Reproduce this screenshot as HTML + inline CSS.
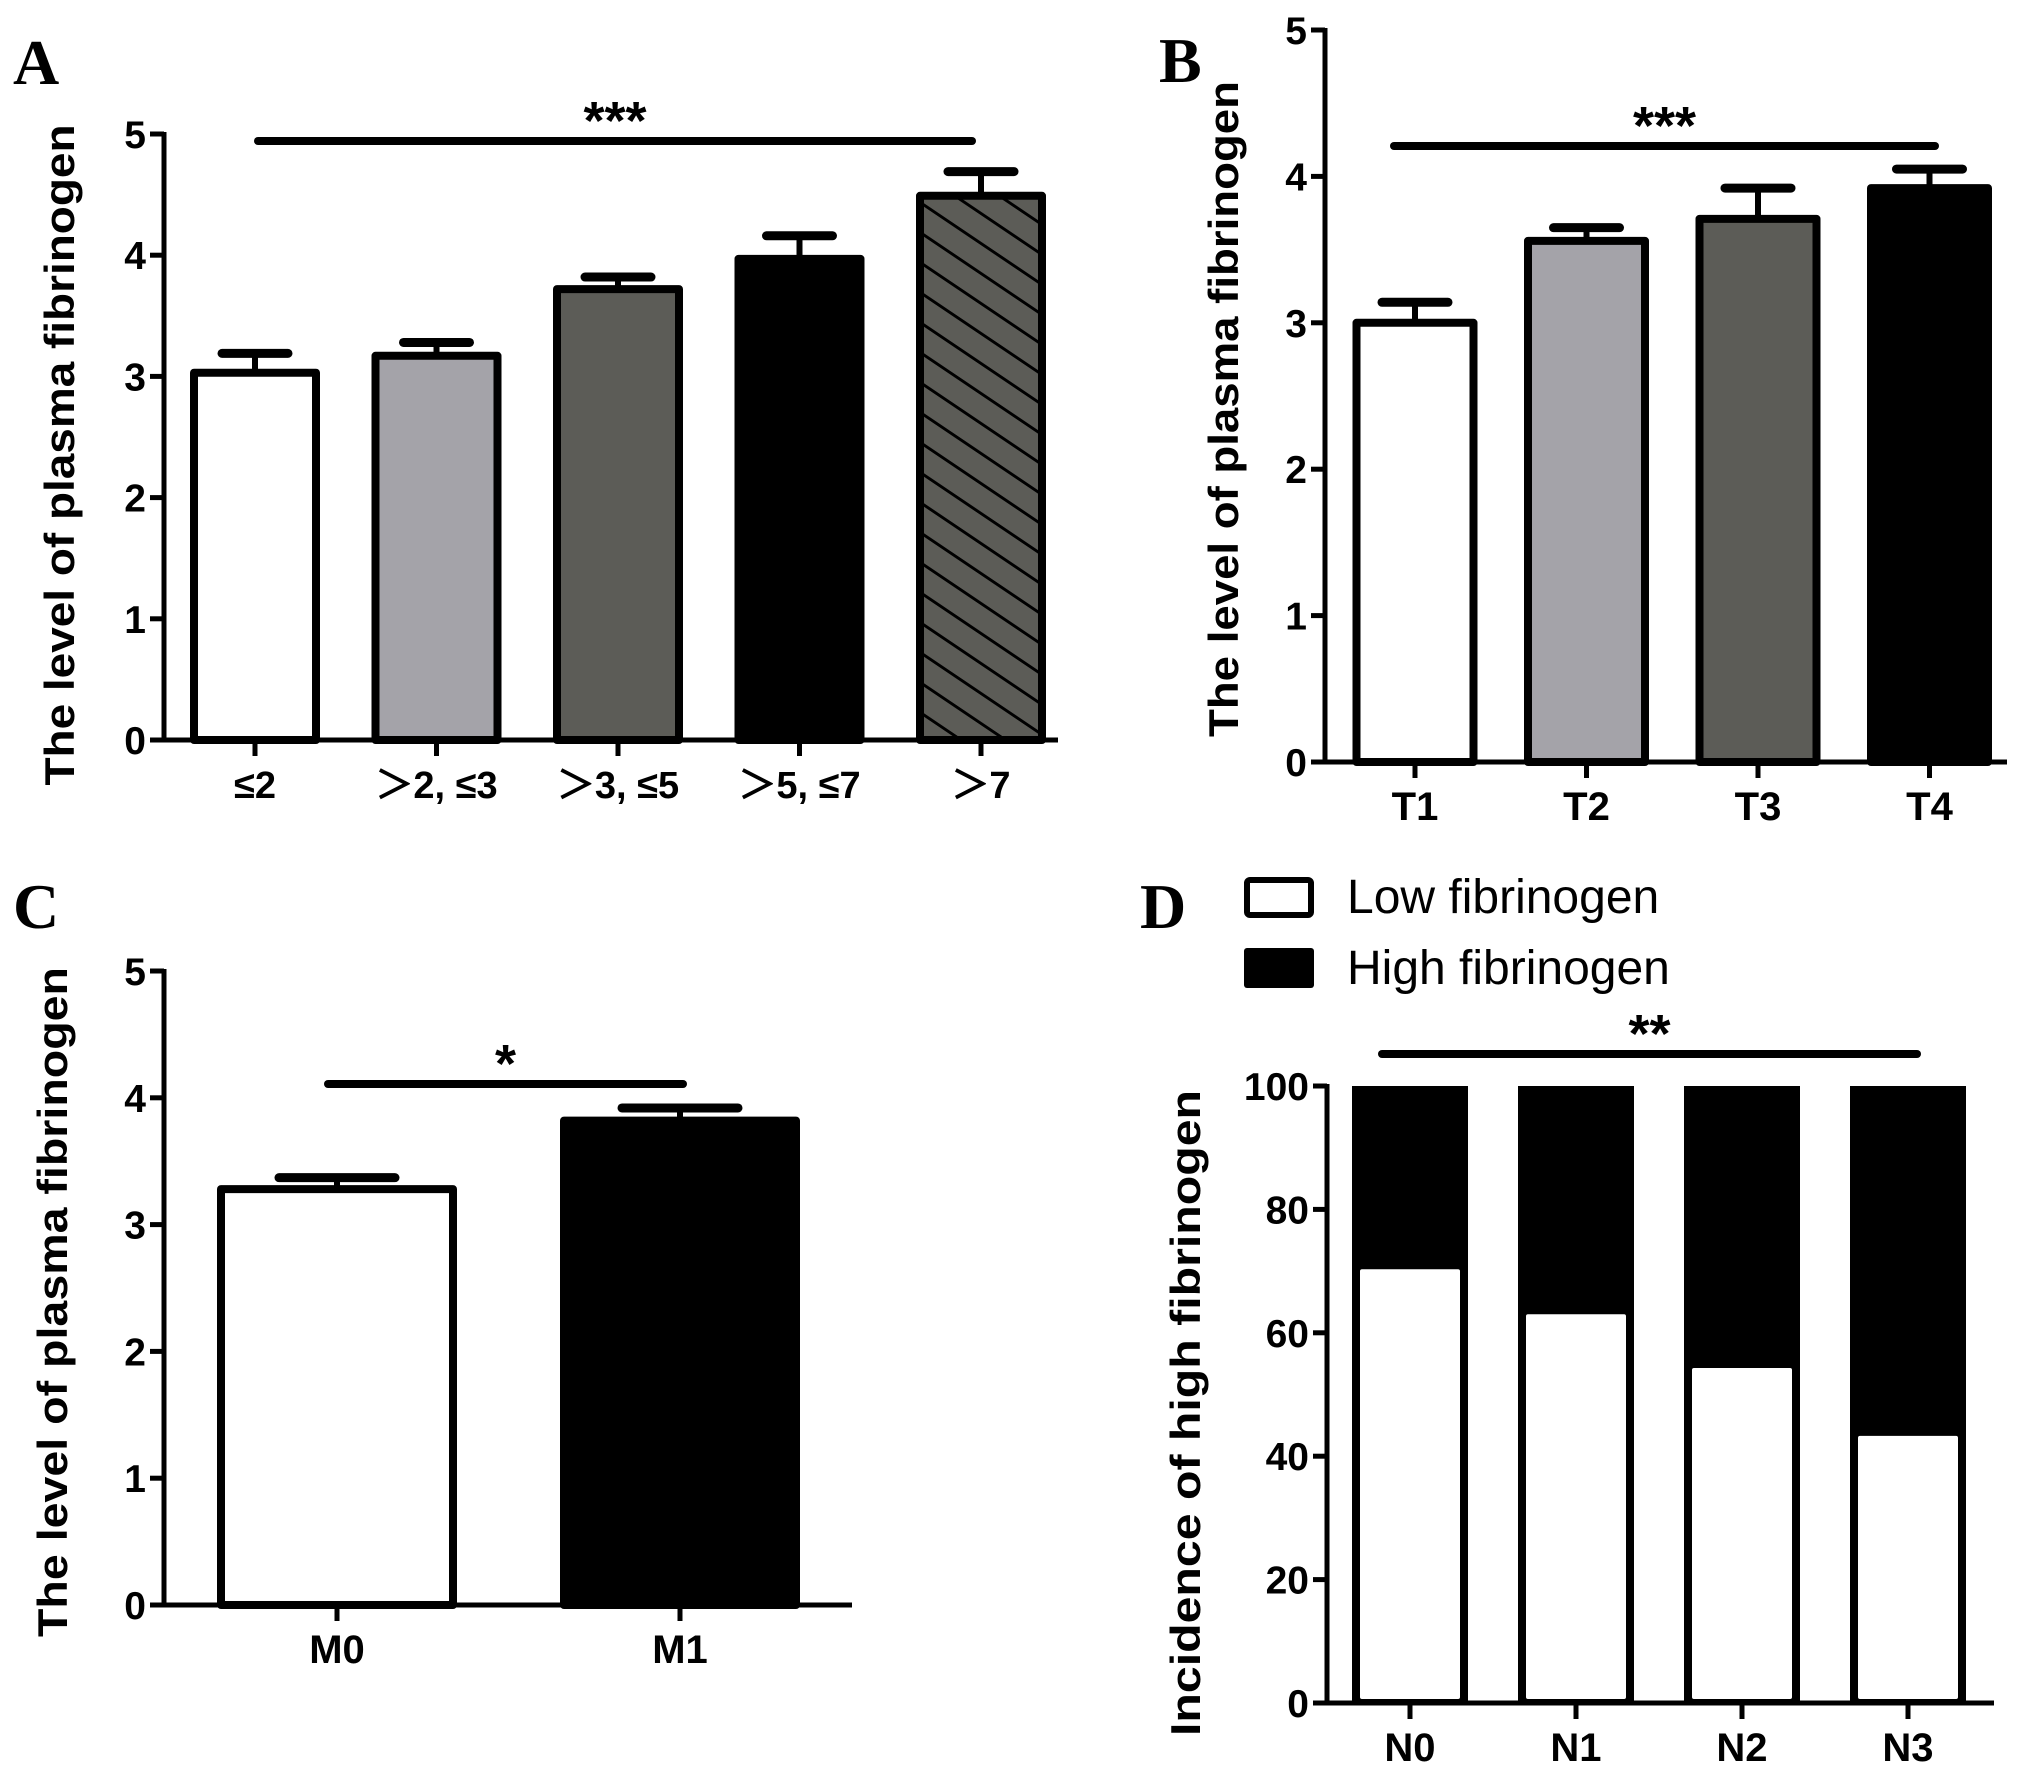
<!DOCTYPE html>
<html><head><meta charset="utf-8"><style>
html,body{margin:0;padding:0;background:#fff;}
svg{display:block;}
text{font-family:"Liberation Sans",Arial,sans-serif;}
.pl{font-family:"Liberation Serif","Times New Roman",serif;font-weight:bold;font-size:64px;}
</style></head><body>
<svg id="fig" width="2031" height="1779" viewBox="0 0 2031 1779" xmlns="http://www.w3.org/2000/svg">
<defs>
<pattern id="hatch" patternUnits="userSpaceOnUse" width="30" height="30" patternTransform="skewY(34)">
<rect width="30" height="30" fill="#5c5c57"/>
<line x1="0" y1="0" x2="30" y2="0" stroke="#000" stroke-width="7"/>
</pattern>
</defs>
<text class="pl" x="13" y="84">A</text>
<text class="pl" x="1159" y="82">B</text>
<text class="pl" x="13" y="928">C</text>
<text class="pl" x="1140" y="928">D</text>
<g id="legend">
<rect x="1247" y="880" width="64" height="35" fill="#fff" stroke="#000" stroke-width="6" rx="3"/>
<rect x="1244" y="948" width="70" height="40" fill="#000" rx="3"/>
<text x="1347" y="913" font-size="48">Low fibrinogen</text>
<text x="1347" y="984" font-size="48">High fibrinogen</text>
</g>
</svg>
<script>
// Panel A
const catsA = ["≤2", "＞2, ≤3", "＞3, ≤5", "＞5, ≤7", "＞7"];
const valsA = [3.03, 3.17, 3.72, 3.97, 4.49];
const errA = [0.16, 0.11, 0.10, 0.19, 0.20];
// Panel B
const catsB = ["T1", "T2", "T3", "T4"];
const valsB = [3.0, 3.56, 3.71, 3.92];
const errB = [0.14, 0.09, 0.21, 0.13];
// Panel C
const catsC = ["M0", "M1"];
const valsC = [3.28, 3.82];
const errC = [0.09, 0.10];
// Panel D
const catsD = ["N0", "N1", "N2", "N3"];
const lowD = [70.3, 63.0, 54.3, 43.3];
const ticksLevel = [0, 1, 2, 3, 4, 5];
const ticksPct = [0, 20, 40, 60, 80, 100];

const NS = "http://www.w3.org/2000/svg";
const svg = document.getElementById("fig");
function mk(tag, attrs, parent) {
  const e = document.createElementNS(NS, tag);
  for (const k in attrs) e.setAttribute(k, attrs[k]);
  (parent || svg).appendChild(e);
  return e;
}

function axes(g, cfg, ticks, cats, ys, xs) {
  const ax = mk("line", {x1: cfg.ax, y1: ys(ticks[ticks.length-1]) - 2, x2: cfg.ax, y2: cfg.y0 + 2, stroke: "#000", "stroke-width": 5}, g);
  
  
  const bx = mk("line", {x1: cfg.ax - 14, y1: cfg.y0, x2: cfg.xEnd, y2: cfg.y0, stroke: "#000", "stroke-width": 5}, g);
  
  
  ticks.forEach(t => {
    const y = ys(t);
    const tk = mk("line", {x1: cfg.ax - 14, y1: y, x2: cfg.ax, y2: y, stroke: "#000", "stroke-width": 5}, g);
    
    
    const tl = mk("text", {x: cfg.ax - 18, y: y + 14, "font-size": 39, "font-weight": "bold", "text-anchor": "end"}, g);
    tl.textContent = t;
    
    
  });
  cats.forEach((c, i) => {
    const x = xs(i);
    const tk = mk("line", {x1: x, y1: cfg.y0, x2: x, y2: cfg.y0 + 16, stroke: "#000", "stroke-width": 5}, g);
    
    
    const tl = mk("text", {x: x, y: cfg.y0 + 58, "font-size": cfg.xfs || 40, "font-weight": "bold", "text-anchor": "middle"}, g);
    tl.textContent = c;
    
    
  });
  const tt = mk("text", {x: 0, y: 0, "font-size": cfg.tfs || 42, "font-weight": "bold", "text-anchor": "middle", transform: `translate(${cfg.tx},${cfg.ty}) rotate(-90)`, textLength: cfg.tlen, lengthAdjust: "spacingAndGlyphs"}, g);
  tt.textContent = cfg.title;
  
  
  const sl = mk("line", {x1: cfg.sig[0], y1: cfg.sig[2], x2: cfg.sig[1], y2: cfg.sig[2], stroke: "#000", "stroke-width": 8, "stroke-linecap": "round"}, g);
  
  
  const st = mk("text", {x: (cfg.sig[0] + cfg.sig[1]) / 2, y: cfg.sig[2] - 2, "font-size": 54, "font-weight": "bold", "text-anchor": "middle"}, g);
  st.textContent = cfg.stars;
  
  
}

function barPanel(name, cfg, cats, vals, errs, fills) {
  const g = mk("g", {});
  
  
  const ys = v => cfg.y0 - (v - cfg.min) / (cfg.max - cfg.min) * (cfg.y0 - cfg.yTop);
  const xs = i => cfg.x0 + cfg.pitch * i;
  cats.forEach((c, i) => {
    const cx = xs(i), top = ys(vals[i]), et = ys(vals[i] + errs[i]);
    const el = mk("line", {x1: cx, y1: top, x2: cx, y2: et, stroke: "#000", "stroke-width": 6}, g);
    
    
    const cap = mk("line", {x1: cx - cfg.cap, y1: et, x2: cx + cfg.cap, y2: et, stroke: "#000", "stroke-width": 9, "stroke-linecap": "round"}, g);
    
    
    const r = mk("rect", {x: cx - cfg.bw / 2, y: top, width: cfg.bw, height: cfg.y0 - top, fill: fills[i], stroke: "#000", "stroke-width": 8, "stroke-linejoin": "round"}, g);
    
    
  });
  axes(g, cfg, cfg.ticks, cats, ys, xs);
}

barPanel("panel-a", {min: 0, max: 5, y0: 740, yTop: 134, ax: 164, xEnd: 1058, x0: 255, pitch: 181.5, bw: 122, cap: 33,
  ticks: ticksLevel, title: "The level of plasma fibrinogen", tx: 74, ty: 455, tlen: 661, xfs: 38,
  sig: [258, 972, 141], stars: "***"}, catsA, valsA, errA, ["#fff", "#a4a3a9", "#5c5c57", "#000", "url(#hatch)"]);

barPanel("panel-b", {min: 0, max: 5, y0: 762, yTop: 30, ax: 1325, xEnd: 2007, x0: 1415, pitch: 171.5, bw: 117, cap: 33,
  ticks: ticksLevel, title: "The level of plasma fibrinogen", tx: 1238, ty: 409, tlen: 656, xfs: 40,
  sig: [1394, 1935, 146], stars: "***"}, catsB, valsB, errB, ["#fff", "#a4a3a9", "#5c5c57", "#000"]);

barPanel("panel-c", {min: 0, max: 5, y0: 1605, yTop: 971, ax: 164, xEnd: 852, x0: 337, pitch: 343, bw: 232, cap: 58,
  ticks: ticksLevel, title: "The level of plasma fibrinogen", tx: 67, ty: 1302, tlen: 670, xfs: 40,
  sig: [328, 683, 1084], stars: "*"}, catsC, valsC, errC, ["#fff", "#000"]);

// Panel D stacked
(function () {
  const cfg = {min: 0, max: 100, y0: 1703, yTop: 1086, ax: 1327, xEnd: 1994, x0: 1410, pitch: 166, bw: 116,
    ticks: ticksPct, title: "Incidence of high fibrinogen", tx: 1200, ty: 1413, tlen: 646, xfs: 40,
    sig: [1382, 1917, 1054], stars: "**"};
  const g = mk("g", {});
  
  
  const ys = v => cfg.y0 - (v - cfg.min) / (cfg.max - cfg.min) * (cfg.y0 - cfg.yTop);
  const xs = i => cfg.x0 + cfg.pitch * i;
  catsD.forEach((c, i) => {
    const cx = xs(i);
    const hb = mk("rect", {x: cx - cfg.bw / 2, y: ys(100), width: cfg.bw, height: cfg.y0 - ys(100), fill: "#000"}, g);
    
    
    const lb = mk("rect", {x: cx - cfg.bw / 2 + 8, y: ys(lowD[i]), width: cfg.bw - 16, height: cfg.y0 - ys(lowD[i]) - 4, fill: "#fff", rx: 2}, g);
    
    
  });
  axes(g, cfg, cfg.ticks, catsD, ys, xs);
})();
</script>
</body></html>
